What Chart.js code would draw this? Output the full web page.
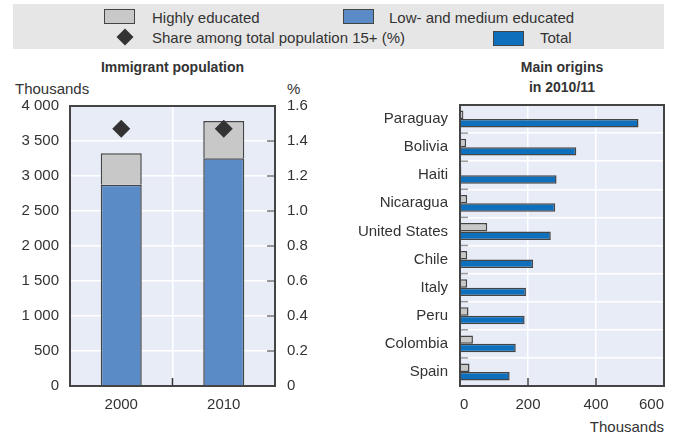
<!DOCTYPE html>
<html><head><meta charset="utf-8">
<script src="https://cdn.jsdelivr.net/npm/chart.js@4.4.1/dist/chart.umd.min.js"></script>
<style>
body{margin:0;width:677px;height:435px;background:#fff;position:relative;overflow:hidden;font-family:"Liberation Sans",Arial,sans-serif;color:#333;}
.t{position:absolute;font-size:15px;line-height:15px;white-space:nowrap;}
.b{font-weight:bold;font-size:14px;line-height:14px;}
.sw{position:absolute;box-sizing:border-box;border:1.5px solid #444;}
#legbg{position:absolute;left:13px;top:4px;width:651px;height:45px;background:#e6e6e6;}
#dia{position:absolute;left:119px;top:31px;width:12px;height:12px;background:#333;transform:rotate(45deg);}
canvas{position:absolute;}
</style></head>
<body>
<div id="legbg"></div>
<div class="sw" style="left:104px;top:9px;width:31px;height:15px;background:#c8c8c8"></div>
<div class="t" style="left:152px;top:10.3px">Highly educated</div>
<div class="sw" style="left:343px;top:9px;width:31px;height:15px;background:#5a8bc6"></div>
<div class="t" style="left:389px;top:10.3px">Low- and medium educated</div>
<div id="dia"></div>
<div class="t" style="left:152px;top:30.3px">Share among total population 15+ (%)</div>
<div class="sw" style="left:493px;top:31px;width:31px;height:15px;background:#0e6fbd"></div>
<div class="t" style="left:540px;top:30.3px">Total</div>

<div class="t b" style="left:72px;width:201px;text-align:center;top:60px">Immigrant population</div>
<div class="t" style="left:15px;top:80.6px">Thousands</div>
<div class="t" style="left:287px;top:80.6px">%</div>
<div class="t b" style="left:460px;width:204px;text-align:center;top:60px">Main origins</div>
<div class="t b" style="left:460px;width:204px;text-align:center;top:80px">in 2010/11</div>
<div class="t" style="right:13px;top:419px">Thousands</div>

<canvas id="cA" width="340" height="385" style="left:0;top:50px"></canvas>
<canvas id="cB" width="337" height="385" style="left:340px;top:50px"></canvas>
<script>
// ---- data ----
const years = ['2000', '2010'];
const lowMedium = [2876, 3253];
const highlyEducated = [448, 533];
const shareTotal = [1.47, 1.47];

const countries = ['Paraguay', 'Bolivia', 'Haiti', 'Nicaragua', 'United States', 'Chile', 'Italy', 'Peru', 'Colombia', 'Spain'];
const originsHighly = [10, 18, 4, 21, 80, 21, 21, 25, 38, 28];
const originsTotal = [525, 342, 284, 280, 267, 215, 194, 190, 164, 146];

// ---- styling ----
const FONT = "'Liberation Sans',Arial,sans-serif";
Chart.defaults.font.family = FONT;
Chart.defaults.font.size = 15;
Chart.defaults.color = '#333';

const GREY = '#c8c8c8', BLUE_LM = '#5a8bc6', BLUE_T = '#0e6fbd', EDGE = '#444', PLOT_BG = '#e8ecf7';
const fmtThousands = v => String(v).replace(/\B(?=(\d{3})+(?!\d))/g, ' ');

const plotBg = {id:'plotBg', beforeDraw(c){
  const a = c.chartArea, ctx = c.ctx;
  ctx.save(); ctx.fillStyle = PLOT_BG; ctx.fillRect(a.left, a.top, a.right - a.left, a.bottom - a.top); ctx.restore();
}};
function line(ctx, x1, y1, x2, y2, col, w){
  ctx.save(); ctx.strokeStyle = col; ctx.lineWidth = w; ctx.beginPath(); ctx.moveTo(x1, y1); ctx.lineTo(x2, y2); ctx.stroke(); ctx.restore();
}
const frameA = {id:'frameA', afterDraw(c){
  const a = c.chartArea, ctx = c.ctx;
  c.scales.y1.ticks.forEach(t => { const y = c.scales.y1.getPixelForValue(t.value); line(ctx, a.right - 8, y, a.right, y, '#777', 1.5); });
  const xs = c.scales.x; const mid = (xs.getPixelForTick(0) + xs.getPixelForTick(1)) / 2;
  line(ctx, mid, a.bottom - 8, mid, a.bottom, '#333', 1.5);
  ctx.save(); ctx.strokeStyle = '#444'; ctx.lineWidth = 2; ctx.strokeRect(a.left, a.top, a.right - a.left, a.bottom - a.top); ctx.restore();
}};
const frameB = {id:'frameB', afterDraw(c){
  const a = c.chartArea, ctx = c.ctx;
  const xs = c.scales.x, ys = c.scales.y;
  xs.ticks.forEach(t => { const x = xs.getPixelForValue(t.value); line(ctx, x, a.bottom - 8, x, a.bottom, '#444', 1.5); });
  for (let i = 1; i < countries.length; i++){
    const y = (ys.getPixelForTick(i - 1) + ys.getPixelForTick(i)) / 2;
    line(ctx, a.left, y, a.left + 8, y, '#999', 1.5);
  }
  ctx.save(); ctx.strokeStyle = '#444'; ctx.lineWidth = 2; ctx.strokeRect(a.left, a.top, a.right - a.left, a.bottom - a.top); ctx.restore();
}};

new Chart(document.getElementById('cA'), {
  type: 'bar',
  data: { labels: years, datasets: [
    { type:'line', label:'Share among total population 15+ (%)', data: shareTotal, yAxisID:'y1', showLine:false,
      pointStyle:'rectRot', pointRadius:9, pointHoverRadius:9, pointBorderWidth:0, backgroundColor:'#333', borderColor:'#333', order:0 },
    { label:'Low- and medium educated', data: lowMedium, backgroundColor: BLUE_LM, borderColor: EDGE, borderWidth:1.5,
      categoryPercentage:0.4, barPercentage:1, order:1 },
    { label:'Highly educated', data: highlyEducated, backgroundColor: GREY, borderColor: EDGE, borderWidth:1.5,
      categoryPercentage:0.4, barPercentage:1, order:1 }
  ]},
  options: {
    responsive:false, animation:false, events:[],
    layout:{ padding:{ top:56, left:0, right:0, bottom:0 } },
    plugins:{ legend:{display:false}, tooltip:{enabled:false} },
    scales:{
      x:{ stacked:true, grid:{ color:'#fff', lineWidth:1.5, drawTicks:false, offset:true }, border:{display:false},
          ticks:{ padding:10 }, afterFit(s){ s.height = 49; } },
      y:{ stacked:true, min:0, max:4000, grid:{ color:'#fff', lineWidth:1.5, drawTicks:false }, border:{display:false},
          ticks:{ stepSize:500, padding:11, callback: v => fmtThousands(v) }, afterFit(s){ s.width = 70; } },
      y1:{ position:'right', min:0, max:1.6, grid:{ display:false, drawTicks:false }, border:{display:false},
          ticks:{ stepSize:0.2, padding:12, callback: v => v === 0 ? '0' : Number(v).toFixed(1) }, afterFit(s){ s.width = 65; } }
    }
  },
  plugins:[plotBg, frameA]
});

new Chart(document.getElementById('cB'), {
  type: 'bar',
  data: { labels: countries, datasets: [
    { label:'Highly educated', data: originsHighly, backgroundColor: GREY, borderColor: EDGE, borderWidth:1.5,
      categoryPercentage:0.6, barPercentage:1 },
    { label:'Total', data: originsTotal, backgroundColor: BLUE_T, borderColor: EDGE, borderWidth:1.5,
      categoryPercentage:0.6, barPercentage:1 }
  ]},
  options: {
    indexAxis:'y', responsive:false, animation:false, events:[],
    layout:{ padding:{ top:55, left:0, right:13, bottom:0 } },
    plugins:{ legend:{display:false}, tooltip:{enabled:false} },
    scales:{
      x:{ min:0, max:600, grid:{ color:'#fff', lineWidth:1.5, drawTicks:false }, border:{display:false},
          ticks:{ stepSize:200, padding:10, align:'inner' },
          afterFit(s){ s.height = 49; s.paddingLeft = 0; s.paddingRight = 0; } },
      y:{ grid:{ color:'#fff', lineWidth:1.5, drawTicks:false, offset:true }, border:{display:false},
          ticks:{ padding:12 }, afterFit(s){ s.width = 120; s.paddingTop = 0; s.paddingBottom = 0; } }
    }
  },
  plugins:[plotBg, frameB]
});
</script>
</body></html>
